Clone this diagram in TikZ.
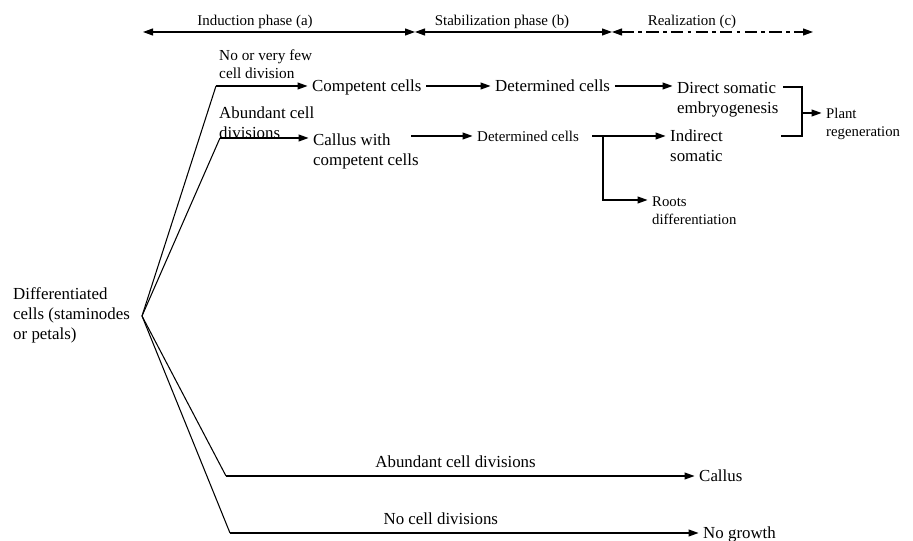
\documentclass[tikz,border=0pt]{standalone}
\usepackage{fontspec}
\setmainfont{Liberation Serif}
\usetikzlibrary{arrows.meta,calc}

\begin{document}
\begin{tikzpicture}[
  >={Triangle[length=2mm,width=1.4mm]},
  stage/.style={inner xsep=2.5pt,inner ysep=0pt,anchor=west,font=\fontsize{9.6}{11.4}\selectfont,
                text height=1.5ex,text depth=.25ex},
  stagetwo/.style={inner xsep=2.5pt,inner ysep=0pt,anchor=base west,align=left,
                   font=\fontsize{9.6}{11.4}\selectfont},
  minor/.style={inner xsep=2.5pt,inner ysep=0pt,font=\fontsize{8.5}{10.4}\selectfont,
                text height=1.5ex,text depth=.25ex},
  minortwo/.style={inner xsep=2.5pt,inner ysep=0pt,anchor=base west,align=left,
                   font=\fontsize{8.4}{10.4}\selectfont},
  link/.style={line width=0.6pt},
  flow/.style={->,line width=0.6pt},
  phase/.style={<->,line width=0.6pt},
]
\useasboundingbox (0,0) rectangle (18.26,10.82);

%% ---------------------------------------------------------------- phases
\coordinate (ph0) at (2.86,10.18);
\coordinate (ph1) at (8.30,10.18);
\coordinate (ph2) at (12.24,10.18);
\coordinate (ph3) at (16.26,10.18);
\draw[phase] (ph0) -- (ph1);
\draw[phase] (ph1) -- (ph2);
\draw[phase,dash pattern=on 7pt off 2.5pt on 2pt off 2.5pt] (ph2) -- (ph3);
\node[minor] (phA) at (5.10,10.42) {Induction phase (a)};
\node[minor] (phB) at (10.04,10.42) {Stabilization phase (b)};
\node[minor] (phC) at (13.84,10.42) {Realization (c)};

%% ---------------------------------------------------------------- source
% base of a multi-line node = baseline of its last line
\node[stagetwo] (diff) at (0.17,4.02) {Differentiated\\cells (staminodes\\or petals)};
\coordinate (fan) at (2.84,4.50);

%% ----------------------------------------------------------- direct route
\node[minortwo,font=\fontsize{8.7}{10.4}\selectfont] (few) at (4.29,9.24) {No or very few\\cell division};
\coordinate (r1) at (4.32,9.10);
\node[stage] (comp) at (6.15,9.10) {Competent cells};
\node[stage] (det1) at (9.81,9.10) {Determined cells};
\node[stagetwo] (direct) at (13.45,8.54) {Direct somatic\\embryogenesis};
\node[minortwo] (plant) at (16.43,8.09) {Plant\\regeneration};
\draw[link] (fan) -- (r1);
\draw[flow] (r1) -- (comp);
\draw[flow] (comp) -- (det1);
\draw[flow] (det1) -- (det1 -| direct.west);

%% --------------------------------------------------------- indirect route
\node[stagetwo] (abund) at (4.29,8.04) {Abundant cell\\divisions};
\coordinate (r2) at (4.40,8.06);
\node[stagetwo] (callus) at (6.17,7.50) {Callus with\\competent cells};
\node[minor,anchor=west] (det2) at (9.45,8.10) {Determined cells};
\coordinate (jn) at (12.06,8.10);
\coordinate (jr) at (12.06,6.82);
\node[stagetwo] (ind) at (13.31,7.58) {Indirect\\somatic};
\node[minortwo] (roots) at (12.95,6.33) {Roots\\differentiation};
\draw[link] (fan) -- (r2);
\draw[flow] (r2) -- (r2 -| callus.west);
\draw[flow] ([xshift=-7pt]callus.east |- det2) -- (det2);
\draw[flow,shorten <=5pt] (det2) -- (jn) -- (jn -| ind.west);
\draw[flow] (jn) -- (jr) -- (jr -| roots.west);

%% ---------------------------------------------------------------- bracket
\coordinate (bt) at (16.04,9.08);
\coordinate (bm) at (16.04,8.56);
\coordinate (bb) at (16.04,8.10);
\draw[link] (bt -| direct.east) -- (bt) -- (bb) -- ([xshift=-1pt]bb -| direct.east);
\draw[flow] (bm) -- (bm -| plant.west);

%% ----------------------------------------------------------- other routes
\coordinate (r3) at (4.52,1.30);
\coordinate (r4) at (4.60,0.16);
\node[stage] (cal) at (13.89,1.30) {Callus};
\node[stage] (nog) at (13.97,0.16) {No growth};
\draw[link] (fan) -- (r3);
\draw[link] (fan) -- (r4);
\draw[flow] (r3) -- node[above=1pt,pos=0.49,font=\fontsize{9.6}{11.4}\selectfont]{Abundant cell divisions} (cal);
\draw[flow] (r4) -- node[above=1pt,pos=0.45,font=\fontsize{9.6}{11.4}\selectfont]{No cell divisions} (nog);

\end{tikzpicture}
\end{document}
